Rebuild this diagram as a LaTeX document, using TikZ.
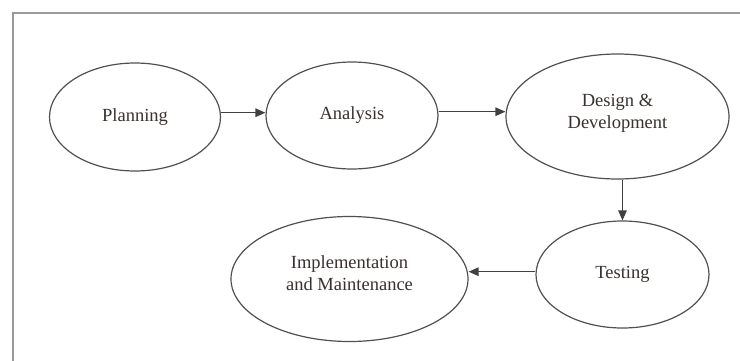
\documentclass[tikz,border=0pt]{standalone}
\usepackage{fontspec}
\setmainfont{Liberation Serif}
\usetikzlibrary{shapes.geometric,arrows.meta}
\definecolor{linegray}{HTML}{505050}
\definecolor{arrgray}{HTML}{404040}
\definecolor{framegray}{HTML}{9A9A9A}
\definecolor{txtcol}{HTML}{3A3030}
\begin{document}
\begin{tikzpicture}[x=1pt,y=-1pt,
  phase/.style={ellipse, draw=linegray, line width=1.2pt, inner sep=0pt, align=center,
    text=txtcol, font=\fontsize{18.5}{22.5}\selectfont},
  arr/.style={draw=arrgray, line width=1.4pt, -{Triangle[length=10pt,width=8.5pt]}}]
\fill[white] (0,0) rectangle (740,360);
\useasboundingbox (0,0) rectangle (740,360);
\draw[framegray, line width=2pt] (13,362) -- (13,13) -- (742,13);
\node[phase, minimum width=171pt, minimum height=108pt] (plan) at (135,117) {Planning};
\node[phase, minimum width=172pt, minimum height=107pt] (an) at (352,115.5) {Analysis};
\node[phase, minimum width=223pt, minimum height=125pt, text height=35pt, text depth=10.4pt] (des) at (617.5,116.5) {Design \&\\Development};
\node[phase, minimum width=173pt, minimum height=107pt] (test) at (622.5,274.5) {Testing};
\node[phase, minimum width=237pt, minimum height=125pt, text height=35pt, text depth=11.4pt] (impl) at (349.5,279) {Implementation\\and Maintenance};
\draw[arr] ([yshift=4.3pt]plan.east) -- ([yshift=2.8pt]an.west);
\draw[arr] ([yshift=3.8pt]an.east) -- ([yshift=4.8pt]des.west);
\draw[arr] (des.south -| test.north) -- (test.north);
\draw[arr] ([yshift=2.8pt]test.west) -- ([yshift=7.3pt]impl.east);
\end{tikzpicture}
\end{document}
